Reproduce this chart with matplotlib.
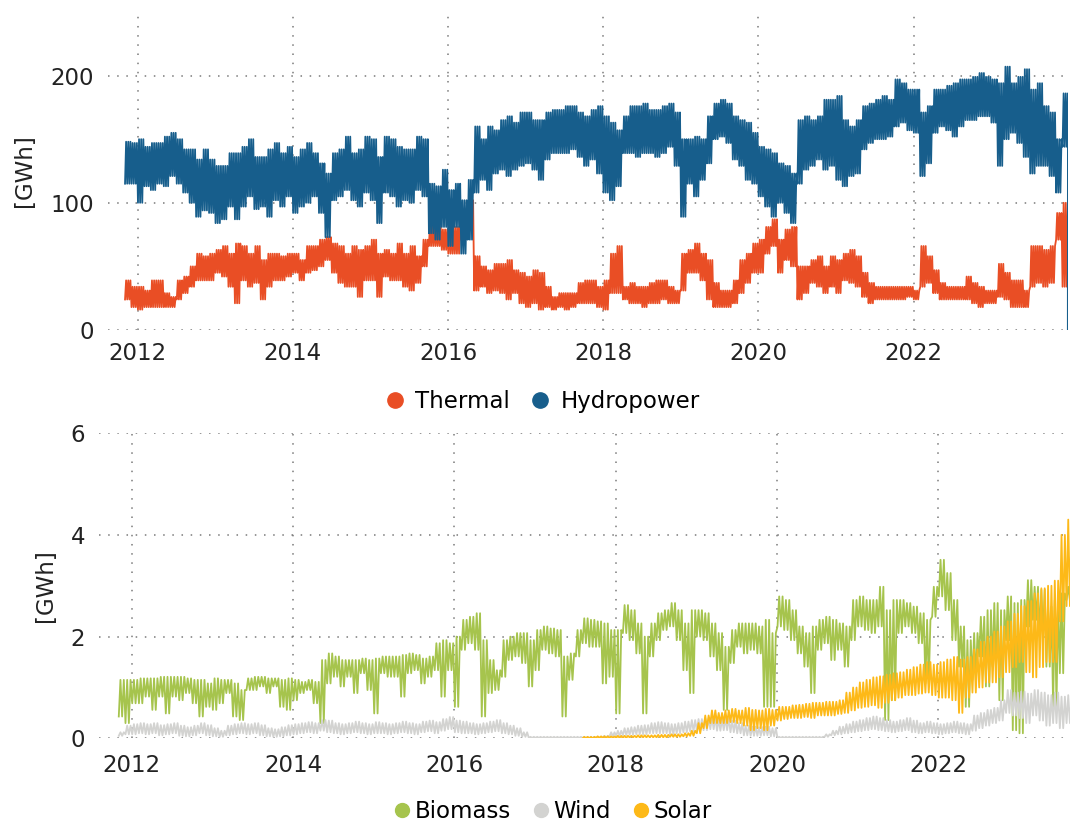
import matplotlib
matplotlib.use("Agg")
import matplotlib.pyplot as plt
from matplotlib.lines import Line2D
import numpy as np

plt.rcParams['font.family'] = ['DejaVu Sans']

# monthly envelopes (low / high of the daily values), first month = Nov 2011
START = 2011.83

hydro_hi = [148, 147, 150, 144, 147, 147, 152, 155, 150, 142,
            142, 134, 142, 134, 129, 129, 139, 139, 144, 150,
            136, 136, 142, 147, 139, 144, 136, 142, 147, 139,
            131, 123, 139, 142, 152, 139, 142, 152, 150, 136,
            152, 150, 144, 142, 142, 152, 150, 115, 113, 126,
            110, 115, 102, 118, 160, 150, 160, 157, 165, 168,
            163, 171, 171, 165, 165, 171, 173, 173, 176, 176,
            171, 168, 173, 176, 168, 163, 157, 168, 176, 176,
            178, 173, 173, 176, 178, 171, 150, 150, 152, 150,
            168, 178, 181, 178, 168, 165, 163, 155, 144, 142,
            139, 131, 129, 123, 165, 168, 165, 168, 181, 181,
            184, 165, 160, 165, 176, 178, 181, 184, 181, 197,
            194, 189, 189, 171, 176, 189, 189, 192, 194, 197,
            197, 199, 202, 199, 197, 194, 207, 194, 199, 205,
            189, 194, 176, 171, 150, 186]
hydro_lo = [115, 115, 100, 113, 110, 115, 113, 121, 115, 108,
            100, 89, 94, 92, 84, 87, 97, 87, 97, 105,
            95, 97, 89, 102, 97, 105, 92, 97, 100, 105,
            92, 73, 102, 105, 110, 102, 97, 108, 102, 84,
            108, 105, 97, 102, 100, 110, 105, 76, 71, 81,
            66, 81, 60, 71, 108, 118, 110, 123, 126, 121,
            126, 129, 131, 126, 118, 134, 139, 139, 139, 142,
            136, 129, 134, 123, 108, 102, 113, 139, 139, 136,
            139, 139, 136, 139, 144, 129, 89, 115, 105, 118,
            131, 150, 152, 147, 134, 129, 118, 115, 105, 97,
            89, 100, 92, 84, 115, 126, 129, 134, 126, 129,
            118, 113, 121, 123, 142, 147, 150, 150, 152, 160,
            163, 157, 155, 121, 131, 155, 160, 157, 152, 160,
            165, 165, 168, 168, 163, 129, 150, 155, 147, 136,
            123, 129, 129, 121, 108, 144]
hydro_last = 0

thermal_hi = [39, 34, 34, 31, 39, 39, 29, 26, 39, 42,
              50, 60, 58, 60, 63, 66, 60, 68, 66, 60,
              66, 55, 60, 60, 58, 60, 60, 55, 66, 66,
              71, 73, 68, 66, 60, 66, 63, 66, 71, 60,
              63, 60, 68, 60, 66, 58, 71, 84, 81, 79,
              81, 81, 92, 102, 58, 50, 47, 52, 52, 55,
              47, 45, 42, 47, 45, 34, 26, 29, 29, 29,
              37, 39, 39, 34, 39, 60, 66, 34, 37, 34,
              34, 37, 39, 39, 34, 31, 60, 63, 68, 60,
              55, 37, 31, 31, 39, 55, 60, 68, 71, 81,
              87, 71, 79, 81, 50, 50, 55, 58, 50, 58,
              55, 60, 63, 58, 45, 37, 34, 34, 34, 34,
              34, 34, 31, 66, 58, 47, 37, 34, 34, 34,
              42, 37, 34, 31, 31, 52, 45, 39, 39, 31,
              66, 66, 63, 66, 92, 100]
thermal_lo = [24, 18, 16, 18, 18, 18, 18, 18, 24, 29,
              34, 39, 39, 39, 45, 42, 34, 21, 39, 34,
              37, 24, 34, 39, 39, 42, 45, 39, 45, 47,
              50, 55, 45, 37, 34, 34, 26, 39, 39, 26,
              42, 39, 39, 34, 31, 37, 50, 66, 66, 63,
              60, 60, 71, 79, 31, 34, 29, 31, 29, 24,
              29, 21, 18, 21, 16, 18, 16, 18, 16, 18,
              21, 21, 21, 18, 16, 29, 29, 24, 21, 21,
              18, 21, 21, 24, 21, 21, 31, 45, 45, 39,
              24, 18, 18, 18, 21, 29, 37, 45, 45, 60,
              66, 45, 55, 50, 24, 29, 37, 34, 29, 34,
              29, 39, 37, 34, 26, 21, 24, 24, 24, 24,
              24, 26, 24, 34, 37, 29, 24, 24, 24, 24,
              24, 21, 18, 21, 21, 26, 24, 18, 18, 18,
              34, 37, 34, 37, 71, 34]

biomass_hi = [1.15, 1.15, 1.15, 1.18, 1.18, 1.18, 1.21, 1.21, 1.21, 1.21,
              1.18, 1.15, 1.15, 1.08, 1.18, 1.15, 1.15, 1.08, 0.95, 1.18,
              1.21, 1.21, 1.18, 1.18, 1.15, 1.18, 1.15, 1.11, 1.15, 1.11,
              1.54, 1.67, 1.61, 1.54, 1.54, 1.54, 1.57, 1.54, 1.57, 1.61,
              1.61, 1.61, 1.64, 1.67, 1.64, 1.57, 1.61, 1.87, 1.93, 1.87,
              2.00, 2.33, 2.39, 2.46, 1.93, 1.54, 1.34, 1.93, 2.00, 2.07,
              2.07, 1.93, 2.13, 2.20, 2.16, 2.13, 1.61, 1.67, 2.13, 2.36,
              2.33, 2.30, 2.26, 2.13, 2.13, 2.62, 2.52, 2.26, 2.00, 2.26,
              2.46, 2.52, 2.66, 2.52, 2.26, 2.52, 2.52, 2.46, 2.26, 2.07,
              1.80, 2.13, 2.26, 2.26, 2.26, 2.20, 2.33, 2.07, 2.79, 2.72,
              2.52, 2.20, 2.07, 2.20, 2.33, 2.39, 2.33, 2.26, 2.20, 2.72,
              2.79, 2.72, 2.72, 2.98, 2.52, 2.72, 2.72, 2.66, 2.59, 2.46,
              2.33, 2.98, 3.51, 3.25, 2.72, 2.20, 1.93, 2.07, 2.39, 2.52,
              2.66, 2.52, 2.79, 2.66, 2.72, 3.11, 2.98, 2.92, 2.59, 2.72,
              2.85, 2.98]
biomass_lo = [0.43, 0.30, 0.69, 0.69, 0.82, 0.56, 0.82, 0.49, 0.82, 0.75,
              0.89, 0.69, 0.43, 0.62, 0.56, 0.69, 0.89, 0.43, 0.36, 0.95,
              0.95, 1.02, 0.89, 1.02, 0.62, 0.56, 0.75, 0.89, 0.95, 0.69,
              0.30, 1.08, 1.21, 1.02, 1.21, 0.89, 1.28, 0.95, 0.49, 1.28,
              1.21, 1.21, 0.82, 1.28, 1.34, 1.08, 1.21, 1.34, 0.82, 1.34,
              0.62, 1.74, 1.87, 1.74, 0.43, 0.89, 0.95, 1.21, 1.54, 1.61,
              1.48, 1.02, 1.34, 1.74, 1.67, 1.61, 0.43, 1.15, 1.61, 1.87,
              1.80, 1.80, 1.08, 1.21, 0.49, 2.07, 1.93, 1.67, 0.49, 1.61,
              1.93, 2.13, 2.20, 1.93, 1.34, 0.89, 2.00, 1.93, 1.61, 1.34,
              0.56, 1.48, 1.80, 1.67, 1.74, 1.67, 0.62, 0.62, 2.20, 2.13,
              1.93, 1.67, 1.41, 0.89, 1.74, 1.87, 1.54, 1.74, 1.41, 1.93,
              2.20, 2.13, 2.07, 2.20, 0.36, 0.75, 2.07, 2.20, 2.07, 1.87,
              1.08, 2.39, 2.79, 2.52, 1.93, 1.41, 0.62, 1.15, 1.61, 1.02,
              1.41, 0.75, 1.93, 0.16, 0.10, 2.20, 2.33, 2.07, 1.41, 0.62,
              1.28, 2.72]

wind_hi = [0.12, 0.25, 0.28, 0.30, 0.28, 0.30, 0.26, 0.28, 0.30, 0.25,
           0.22, 0.25, 0.30, 0.26, 0.20, 0.15, 0.25, 0.28, 0.30, 0.28,
           0.30, 0.26, 0.20, 0.18, 0.22, 0.26, 0.28, 0.30, 0.32, 0.30,
           0.36, 0.35, 0.30, 0.28, 0.30, 0.33, 0.30, 0.28, 0.32, 0.30,
           0.28, 0.30, 0.33, 0.30, 0.28, 0.33, 0.35, 0.32, 0.38, 0.42,
           0.35, 0.33, 0.30, 0.28, 0.30, 0.33, 0.36, 0.30, 0.25, 0.20,
           0.12, 0.03, 0.03, 0.03, 0.03, 0.03, 0.03, 0.03, 0.03, 0.03,
           0.03, 0.03, 0.05, 0.12, 0.15, 0.20, 0.22, 0.25, 0.26, 0.30,
           0.32, 0.30, 0.28, 0.30, 0.33, 0.36, 0.38, 0.40, 0.42, 0.38,
           0.40, 0.35, 0.30, 0.25, 0.23, 0.22, 0.23, 0.20, 0.03, 0.03,
           0.03, 0.03, 0.03, 0.03, 0.03, 0.08, 0.15, 0.23, 0.28, 0.33,
           0.36, 0.40, 0.43, 0.40, 0.36, 0.33, 0.36, 0.40, 0.35, 0.30,
           0.33, 0.30, 0.28, 0.30, 0.33, 0.30, 0.28, 0.45, 0.50, 0.56,
           0.60, 0.75, 0.95, 0.90, 0.92, 0.88, 0.95, 0.90, 0.85, 0.90,
           0.82, 0.85]
wind_lo = [0.05, 0.08, 0.08, 0.10, 0.08, 0.10, 0.06, 0.08, 0.10, 0.05,
           0.04, 0.06, 0.10, 0.06, 0.04, 0.03, 0.06, 0.08, 0.10, 0.08,
           0.10, 0.06, 0.04, 0.03, 0.04, 0.06, 0.08, 0.10, 0.12, 0.10,
           0.15, 0.12, 0.10, 0.08, 0.10, 0.12, 0.10, 0.08, 0.10, 0.10,
           0.08, 0.10, 0.12, 0.10, 0.08, 0.12, 0.14, 0.10, 0.15, 0.18,
           0.12, 0.10, 0.10, 0.08, 0.10, 0.12, 0.14, 0.10, 0.08, 0.05,
           0.03, 0.01, 0.01, 0.01, 0.01, 0.01, 0.01, 0.01, 0.01, 0.01,
           0.01, 0.01, 0.02, 0.04, 0.05, 0.06, 0.07, 0.08, 0.08, 0.10,
           0.10, 0.10, 0.08, 0.10, 0.12, 0.14, 0.15, 0.16, 0.18, 0.15,
           0.16, 0.12, 0.10, 0.06, 0.05, 0.05, 0.06, 0.04, 0.01, 0.01,
           0.01, 0.01, 0.01, 0.01, 0.01, 0.03, 0.06, 0.08, 0.10, 0.12,
           0.14, 0.16, 0.18, 0.16, 0.14, 0.12, 0.14, 0.16, 0.12, 0.10,
           0.12, 0.10, 0.08, 0.10, 0.12, 0.10, 0.08, 0.15, 0.20, 0.25,
           0.30, 0.35, 0.50, 0.45, 0.40, 0.30, 0.45, 0.35, 0.25, 0.30,
           0.20, 0.30]

# solar starts in month 69 (Aug 2017)
solar_first = 69
solar_hi = [0.03, 0.03, 0.04, 0.04, 0.04, 0.05, 0.05, 0.05, 0.06, 0.06,
            0.06, 0.07, 0.07, 0.08, 0.08, 0.10, 0.15, 0.30, 0.45, 0.55,
            0.50, 0.55, 0.58, 0.55, 0.60, 0.56, 0.55, 0.58, 0.56, 0.62,
            0.62, 0.65, 0.66, 0.68, 0.70, 0.70, 0.72, 0.72, 0.75, 0.90,
            1.00, 1.10, 1.15, 1.20, 1.22, 1.25, 1.28, 1.30, 1.35, 1.40,
            1.45, 1.50, 1.45, 1.50, 1.55, 1.60, 1.55, 1.60, 1.75, 1.90,
            2.00, 2.10, 2.20, 2.30, 2.45, 2.60, 2.70, 2.85, 2.95, 3.00,
            3.10, 4.00, 4.30]
solar_lo = [0.00, 0.00, 0.01, 0.01, 0.01, 0.01, 0.01, 0.02, 0.02, 0.02,
            0.02, 0.02, 0.02, 0.03, 0.03, 0.04, 0.05, 0.10, 0.20, 0.30,
            0.30, 0.30, 0.32, 0.30, 0.25, 0.16, 0.20, 0.16, 0.25, 0.35,
            0.38, 0.40, 0.40, 0.42, 0.40, 0.45, 0.45, 0.45, 0.48, 0.50,
            0.55, 0.60, 0.62, 0.65, 0.60, 0.70, 0.75, 0.80, 0.85, 0.85,
            0.88, 0.90, 0.85, 0.80, 0.80, 0.75, 0.50, 0.80, 0.90, 1.00,
            1.10, 1.10, 1.20, 1.30, 1.40, 1.50, 1.30, 1.20, 1.40, 1.50,
            1.50, 2.30, 2.60]

years = [2012, 2014, 2016, 2018, 2020, 2022]

c_thermal = '#E94E25'
c_hydro = '#175E8C'
c_biomass = '#A6C44D'
c_wind = '#D3D3D1'
c_solar = '#FDB918'
grid_col = '#7a7a7a'
FS = 16.5


def zigzag(first, lo, hi, cycles):
    # every month swings between its low and high value a few times
    n = len(lo)
    k = 2 * cycles
    x = np.empty(n * k)
    y = np.empty(n * k)
    for i in range(n):
        for j in range(k):
            x[i * k + j] = START + (first + i + (j + 0.5) / k) / 12
            y[i * k + j] = lo[i] if j % 2 == 0 else hi[i]
    return x, y


def style(ax, yticks):
    for s in ax.spines.values():
        s.set_visible(False)
    ax.set_xticks(years)
    ax.set_xticklabels([str(y) for y in years])
    ax.set_yticks(yticks)
    ax.tick_params(length=0, labelsize=FS, colors='#222222')
    ax.grid(True, color=grid_col, linestyle=(0, (1, 5)), linewidth=1.1)
    ax.set_axisbelow(True)


fig = plt.figure(figsize=(10.7, 8.25), dpi=100)

# ---- top panel
ax1 = fig.add_axes([0.1009, 0.6, 0.8972, 0.3855])
tx, ty = zigzag(0, thermal_lo, thermal_hi, 3)
ax1.plot(tx, ty, color=c_thermal, lw=1.3)
hx, hy = zigzag(0, hydro_lo, hydro_hi, 3)
hx = np.append(hx, START + (len(hydro_hi) - 0.1) / 12)
hy = np.append(hy, hydro_last)
ax1.plot(hx, hy, color=c_hydro, lw=1.3)
ax1.set_xlim(2011.617, 2023.99)
ax1.set_ylim(0, 250)
style(ax1, [0, 100, 200])
ax1.tick_params(axis='x', pad=9)
ax1.tick_params(axis='y', pad=10)
ax1.set_ylabel('[GWh]', fontsize=FS, color='#222222')
ax1.yaxis.set_label_coords(-0.075, 0.5)

h1 = [Line2D([], [], marker='o', ls='', ms=11, color=c_thermal),
      Line2D([], [], marker='o', ls='', ms=11, color=c_hydro)]
fig.legend(h1, ['Thermal', 'Hydropower'], loc='center', bbox_to_anchor=(0.506, 0.513),
           ncol=2, frameon=False, fontsize=FS, handlelength=1.0, handletextpad=0.4,
           columnspacing=0.8, borderpad=0)

# ---- bottom panel
ax2 = fig.add_axes([0.0925, 0.105, 0.9075, 0.370])
bx, by = zigzag(0, biomass_lo, biomass_hi, 2)
ax2.plot(bx, by, color=c_biomass, lw=1.3)
wx, wy = zigzag(0, wind_lo, wind_hi, 2)
ax2.plot(wx, wy, color=c_wind, lw=1.3)
sx, sy = zigzag(solar_first, solar_lo, solar_hi, 2)
ax2.plot(sx, sy, color=c_solar, lw=1.3)
ax2.set_xlim(2011.595, 2023.633)
ax2.set_ylim(0, 6)
style(ax2, [0, 2, 4, 6])
ax2.tick_params(axis='x', pad=11)
ax2.tick_params(axis='y', pad=10)
ax2.set_ylabel('[GWh]', fontsize=FS, color='#222222')
ax2.yaxis.set_label_coords(-0.043, 0.5)

h2 = [Line2D([], [], marker='o', ls='', ms=10, color=c_biomass),
      Line2D([], [], marker='o', ls='', ms=10, color=c_wind),
      Line2D([], [], marker='o', ls='', ms=10, color=c_solar)]
fig.legend(h2, ['Biomass', 'Wind', 'Solar'], loc='center', bbox_to_anchor=(0.516, 0.016),
           ncol=3, frameon=False, fontsize=FS, handlelength=0.8, handletextpad=0.15,
           columnspacing=0.9, borderpad=0)

fig.savefig('out.png', dpi=100)
